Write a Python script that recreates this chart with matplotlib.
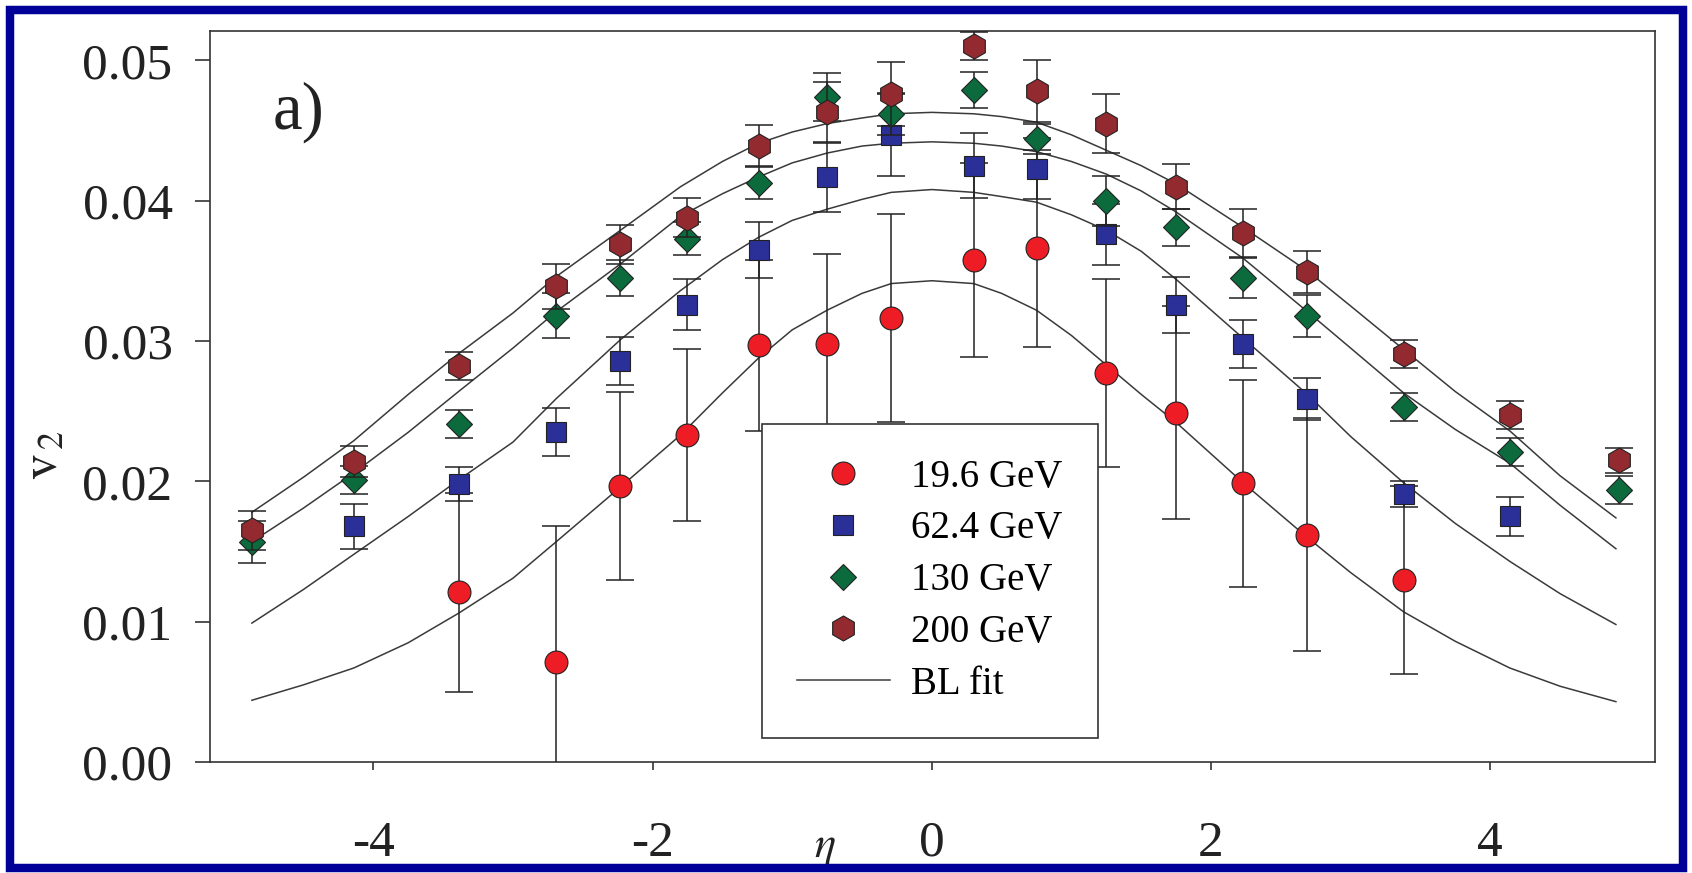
import numpy as np
import matplotlib.pyplot as plt
from matplotlib.patches import Rectangle

plt.rcParams['font.family'] = ['Liberation Serif', 'DejaVu Serif']
plt.rcParams['mathtext.fontset'] = 'stix'
plt.rcParams['axes.unicode_minus'] = False

# pseudorapidity bins
eta_all = [-4.87, -4.14, -3.39, -2.69, -2.23, -1.75, -1.24, -0.75, -0.29,
           0.30, 0.75, 1.25, 1.75, 2.23, 2.69, 3.38, 4.14, 4.92]

# 19.6 GeV
eta_196 = [-3.39, -2.69, -2.23, -1.75, -1.24, -0.75, -0.29,
           0.30, 0.75, 1.25, 1.75, 2.23, 2.69, 3.38]
v2_196 = [0.0121, 0.00715, 0.0197, 0.0233, 0.0297, 0.0298, 0.03165,
          0.0358, 0.0366, 0.0277, 0.0249, 0.01985, 0.0162, 0.0130]
err_196 = [0.0071, 0.0097, 0.0067, 0.0061, 0.0061, 0.0064, 0.0074,
           0.0069, 0.0070, 0.0067, 0.0076, 0.0074, 0.0083, 0.0067]

# 62.4 GeV
eta_624 = [-4.14, -3.39, -2.69, -2.23, -1.75, -1.24, -0.75, -0.29,
           0.30, 0.75, 1.25, 1.75, 2.23, 2.69, 3.38, 4.14]
v2_624 = [0.0168, 0.0198, 0.0235, 0.0286, 0.0326, 0.0365, 0.0417, 0.0447,
          0.0425, 0.0423, 0.0376, 0.0326, 0.0298, 0.0259, 0.0191, 0.0175]
err_624 = [0.0016, 0.0012, 0.0017, 0.0017, 0.0018, 0.0020, 0.0025, 0.0029,
           0.0023, 0.0022, 0.0022, 0.0020, 0.0017, 0.0015, 0.0009, 0.0014]

# 130 GeV
v2_130 = [0.0157, 0.0201, 0.0241, 0.0318, 0.0345, 0.0373, 0.0413, 0.0474, 0.0462,
          0.0479, 0.0444, 0.0400, 0.0381, 0.0345, 0.0318, 0.0253, 0.0221, 0.0194]
err_130 = [0.0015, 0.0010, 0.0010, 0.0016, 0.0013, 0.0012, 0.0012, 0.0017, 0.0015,
           0.0013, 0.0011, 0.0018, 0.0013, 0.0014, 0.0015, 0.0010, 0.0010, 0.0010]

# 200 GeV
v2_200 = [0.0165, 0.0214, 0.0282, 0.0339, 0.0369, 0.0388, 0.0439, 0.0463, 0.0476,
          0.0510, 0.0478, 0.0455, 0.0410, 0.0377, 0.0349, 0.0291, 0.0247, 0.0215]
err_200 = [0.0014, 0.0011, 0.0010, 0.0016, 0.0014, 0.0014, 0.0015, 0.0022, 0.0023,
           0.0010, 0.0022, 0.0021, 0.0016, 0.0017, 0.0015, 0.0010, 0.0010, 0.0009]

# BL fit curves
fit_eta = [-4.87, -4.5, -4.14, -3.75, -3.39, -3.0, -2.69, -2.23, -1.8, -1.5, -1.24,
           -1.0, -0.75, -0.5, -0.29, 0.0, 0.3, 0.5, 0.75, 1.0, 1.25, 1.5, 1.75,
           2.23, 2.69, 3.0, 3.38, 3.75, 4.14, 4.5, 4.9]
fit_200 = [0.0178, 0.0203, 0.0229, 0.0262, 0.0291, 0.0320, 0.0346, 0.0379, 0.0410,
           0.0428, 0.0441, 0.0449, 0.0455, 0.0459, 0.0462, 0.0463, 0.0462, 0.0460,
           0.0456, 0.0447, 0.0436, 0.0425, 0.0412, 0.0381, 0.0350, 0.0325, 0.0294,
           0.0264, 0.0236, 0.0204, 0.0174]
fit_130 = [0.0157, 0.0181, 0.0206, 0.0235, 0.0264, 0.0295, 0.0321, 0.0355, 0.0389,
           0.0405, 0.0417, 0.0427, 0.0434, 0.0439, 0.0441, 0.0442, 0.0441, 0.0439,
           0.0435, 0.0428, 0.0419, 0.0407, 0.0392, 0.0359, 0.0321, 0.0295, 0.0263,
           0.0237, 0.0213, 0.0183, 0.0152]
fit_624 = [0.0099, 0.0123, 0.0148, 0.0175, 0.0201, 0.0228, 0.0259, 0.0301, 0.0336,
           0.0358, 0.0374, 0.0386, 0.0394, 0.0401, 0.0406, 0.0408, 0.0406, 0.0403,
           0.0399, 0.0390, 0.0379, 0.0364, 0.0344, 0.0302, 0.0262, 0.0232, 0.0199,
           0.0170, 0.0143, 0.0120, 0.0098]
fit_196 = [0.0044, 0.0055, 0.0067, 0.0085, 0.0106, 0.0131, 0.0157, 0.0196, 0.0233,
           0.0263, 0.0288, 0.0308, 0.0322, 0.0334, 0.0341, 0.0343, 0.0341, 0.0334,
           0.0322, 0.0304, 0.0283, 0.0262, 0.0242, 0.0199, 0.0160, 0.0135, 0.0107,
           0.0086, 0.0067, 0.0054, 0.0043]

fig = plt.figure(figsize=(16.92, 8.73), dpi=100)
ax = fig.add_axes([210 / 1692, 111 / 873, 1445 / 1692, 731 / 873])

for f in [fit_200, fit_130, fit_624, fit_196]:
    line_fit, = ax.plot(fit_eta, f, color='#3a3a3a', lw=1.1, zorder=2)

series = [
    (eta_196, v2_196, err_196, 'o', 16.5, '#ee1c25', '19.6 GeV'),
    (eta_624, v2_624, err_624, 's', 15, '#2b2f98', '62.4 GeV'),
    (eta_all, v2_130, err_130, 'D', 13.5, '#0b6b3c', '130 GeV'),
    (eta_all, v2_200, err_200, 'h', 18, '#932a30', '200 GeV'),
]
handles = []
z = 3
for x, y, e, m, ms, c, lab in series:
    ax.errorbar(x, y, yerr=e, fmt='none', ecolor='#222222', elinewidth=1.1,
                capsize=10, capthick=1.1, zorder=z)
    h, = ax.plot(x, y, ls='none', marker=m, ms=ms, mfc=c, mec='#222222',
                 mew=0.8, zorder=z + 0.5, label=lab)
    handles.append(h)
    z += 1

handles.append(line_fit)
labels = ['19.6 GeV', '62.4 GeV', '130 GeV', '200 GeV', 'BL fit']
leg = ax.legend(handles, labels, loc='lower left', bbox_to_anchor=(0.3818, 0.0332),
                borderaxespad=0, frameon=True, fancybox=False, edgecolor='#333333',
                framealpha=1, fontsize=28, handlelength=2.4, handletextpad=0.55,
                labelspacing=0.38, borderpad=0.9)
leg.get_frame().set_linewidth(1.2)
leg.set_zorder(10)

ax.set_xlim(-5.17, 5.18)
ax.set_ylim(0, 0.0521)
ax.set_xticks([-4, -2, 0, 2, 4])
ax.set_xticklabels(['-4', '-2', '0', '2', '4'])
ax.set_yticks([0, 0.01, 0.02, 0.03, 0.04, 0.05])
ax.set_yticklabels(['0.00', '0.01', '0.02', '0.03', '0.04', '0.05'])
ax.tick_params(axis='x', direction='out', length=6, width=1.1, pad=36,
               labelsize=37, colors='#222222')
ax.tick_params(axis='y', direction='out', length=11, width=1.1, pad=16,
               labelsize=37, colors='#222222')
for s in ax.spines.values():
    s.set_linewidth(1.2)
    s.set_color('#333333')

ax.set_ylabel(r'$\mathrm{v}_{\,2}$', fontsize=37, color='#222222')
ax.yaxis.set_label_coords(-0.098, 0.42)
ax.set_xlabel(r'$\eta$', fontsize=32, color='#222222')
ax.xaxis.set_label_coords(0.4256, -0.09)

ax.text(0.043, 0.867, 'a)', transform=ax.transAxes, fontsize=48,
        ha='left', va='baseline', color='#222222')

# blue frame round the whole picture
fig.add_artist(Rectangle((9.5 / 1692, 5 / 873), (1682.5 - 9.5) / 1692, (863.5 - 5) / 873,
                         transform=fig.transFigure, fill=False, ec='#000099', lw=6.1))

fig.savefig('out.png', dpi=100)
